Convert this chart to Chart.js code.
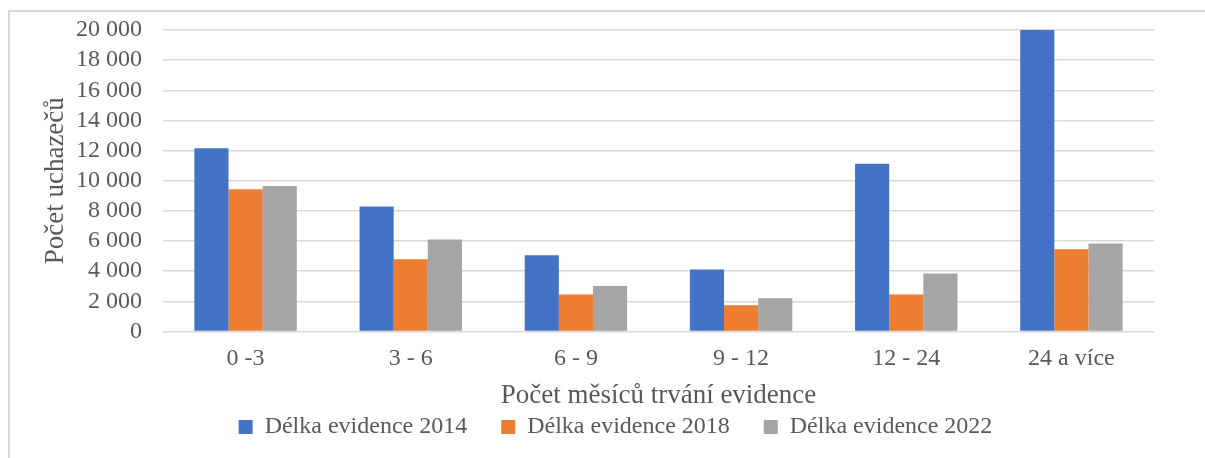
<!DOCTYPE html>
<html>
<head>
<meta charset="utf-8">
<script src="https://cdn.jsdelivr.net/npm/chart.js@4.4.1/dist/chart.umd.min.js"></script>
<style>
  html, body { margin: 0; padding: 0; background: #ffffff; overflow: hidden; }
  #frame {
    position: absolute; left: 8px; top: 10px; width: 1300px; height: 600px;
    border-left: 2px solid #d9d9d9; border-top: 2px solid #d9d9d9;
  }
  #chartBox { position: absolute; left: 0; top: 0; width: 1205px; height: 458px; }
</style>
</head>
<body>
<div id="frame"></div>
<div id="chartBox"><canvas id="statChart"></canvas></div>
<script>
// Chart data
const CATEGORY_LIST = ["0 -3", "3 - 6", "6 - 9", "9 - 12", "12 - 24", "24 a více"];
const SERIES_LABEL_LIST = ["Délka evidence 2014", "Délka evidence 2018", "Délka evidence 2022"];
const DATA_2014 = [12150, 8300, 5050, 4120, 11120, 20000];
const DATA_2018 = [9430, 4790, 2450, 1740, 2450, 5450];
const DATA_2022 = [9650, 6100, 3010, 2210, 3850, 5830];
const Y_TICK_LABELS = ["0", "2 000", "4 000", "6 000", "8 000", "10 000", "12 000", "14 000", "16 000", "18 000", "20 000"];

const COLOR_LIST = ["#4472C4", "#ED7D31", "#A5A5A5"];
const TEXT_COLOR = "#595959";
const GRID_COLOR = "#d9d9d9";
const FONT_FAMILY = "'Liberation Serif', 'Times New Roman', serif";

const CTX = document.getElementById("statChart").getContext("2d");

new Chart(CTX, {
  type: "bar",
  data: {
    labels: CATEGORY_LIST,
    datasets: [DATA_2014, DATA_2018, DATA_2022].map((values, i) => ({
      label: SERIES_LABEL_LIST[i],
      data: values,
      backgroundColor: COLOR_LIST[i],
      borderWidth: 0,
      barPercentage: 1,
      categoryPercentage: 0.62
    }))
  },
  options: {
    responsive: true,
    maintainAspectRatio: false,
    animation: false,
    layout: {
      padding: { top: 30, left: 77, right: 51, bottom: 9 }
    },
    plugins: {
      tooltip: { enabled: false },
      legend: {
        position: "bottom",
        labels: {
          color: TEXT_COLOR,
          font: { family: FONT_FAMILY, size: 24 },
          boxWidth: 14,
          boxHeight: 14,
          padding: 34
        }
      }
    },
    scales: {
      x: {
        afterFit: (scale) => { scale.height = 49.5; },
        grid: { display: false, drawTicks: false },
        border: { display: false },
        ticks: {
          color: TEXT_COLOR,
          font: { family: FONT_FAMILY, size: 24 },
          padding: 13,
          maxRotation: 0
        },
        title: {
          display: true,
          text: "Počet měsíců trvání evidence",
          color: TEXT_COLOR,
          font: { family: FONT_FAMILY, size: 27 },
          padding: { top: 0, bottom: -31.6 }
        }
      },
      y: {
        min: 0,
        max: 20000,
        afterFit: (scale) => { scale.width = 86; },
        grid: {
          color: GRID_COLOR,
          lineWidth: 1.5,
          drawTicks: true,
          tickLength: 21,
          tickColor: "rgba(0,0,0,0)"
        },
        border: { display: false },
        ticks: {
          stepSize: 2000,
          autoSkip: false,
          color: TEXT_COLOR,
          font: { family: FONT_FAMILY, size: 24 },
          padding: 0,
          callback: (value, index) => Y_TICK_LABELS[index]
        },
        title: {
          display: true,
          text: "Počet uchazečů",
          color: TEXT_COLOR,
          font: { family: FONT_FAMILY, size: 27 },
          padding: { top: -37, bottom: 0 }
        }
      }
    }
  }
});
</script>
</body>
</html>
